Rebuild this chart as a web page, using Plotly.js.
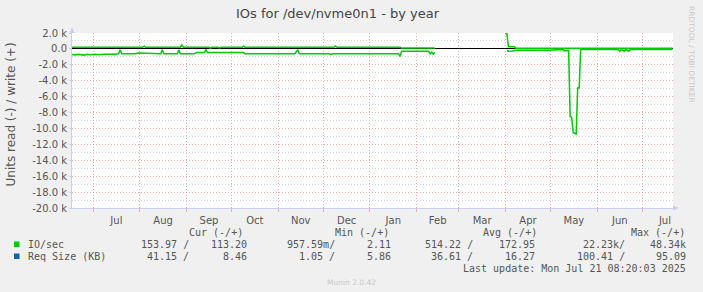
<!DOCTYPE html>
<html>
<head>
<meta charset="utf-8">
<script src="https://cdn.plot.ly/plotly-3.0.1.min.js"></script>
<style>
html,body{margin:0;padding:0;background:#f0f0f0;}
#chart{width:703px;height:292px;}
</style>
</head>
<body>
<div id="chart"></div>
<script>
// ---- data ----
const readDates = ['2024-06-17','2024-06-19','2024-06-21','2024-06-23','2024-06-25','2024-06-27','2024-06-29','2024-07-02','2024-07-05','2024-07-08','2024-07-11','2024-07-15','2024-07-18','2024-07-19','2024-07-20','2024-07-29','2024-07-31','2024-08-03','2024-08-05','2024-08-15','2024-08-16','2024-08-17','2024-08-26','2024-08-27','2024-08-28','2024-09-06','2024-09-08','2024-09-13','2024-09-14','2024-09-15','2024-10-09','2024-10-10','2024-11-12','2024-11-14','2024-11-15','2024-12-05','2024-12-06','2024-12-07','2025-01-20','2025-01-21','2025-01-22','2025-02-09','2025-02-10','2025-02-11','2025-02-12','2025-02-13','2025-02-14','2025-03-31','2025-04-02','2025-04-03','2025-04-06','2025-04-08','2025-04-30','2025-05-08','2025-05-09','2025-05-10','2025-05-13','2025-05-14','2025-05-15','2025-05-16','2025-05-18','2025-05-19','2025-05-20','2025-05-21','2025-06-15','2025-06-16','2025-06-17','2025-06-19','2025-06-20','2025-06-22','2025-06-23','2025-07-21'];
const readVals = [-700,-760,-660,-720,-780,-680,-740,-660,-730,-680,-720,-680,-620,-100,-620,-620,-520,-540,-620,-620,-120,-620,-620,-150,-620,-620,-460,-460,-80,-460,-460,-620,-620,-100,-620,-620,-720,-620,-620,-950,-300,-300,-620,-420,-650,-420,null,null,-200,-290,-250,-170,-160,-150,-60,-220,-220,-8500,-8600,-10500,-10700,-4900,-4900,-80,-80,-300,-80,-300,-80,-300,-80,-80];

const writeDates = ['2024-06-17','2024-08-03','2024-08-04','2024-08-05','2024-08-28','2024-08-29','2024-08-30','2024-09-16','2024-09-17','2024-09-18','2024-09-22','2024-09-23','2024-09-24','2024-10-08','2024-10-09','2024-10-10','2024-12-08','2024-12-09','2024-12-10','2025-01-21','2025-01-22','2025-02-13','2025-02-14','2025-03-31','2025-04-01','2025-04-02','2025-04-03','2025-04-07','2025-04-08','2025-07-21'];
const writeVals = [210,210,350,210,210,500,210,210,110,210,210,120,210,210,340,210,210,380,210,210,110,110,null,null,1900,1900,260,260,70,70];

const yTickVals = [2000,0,-2000,-4000,-6000,-8000,-10000,-12000,-14000,-16000,-18000,-20000];
const yTickText = ['2.0 k','0.0','-2.0 k','-4.0 k','-6.0 k','-8.0 k','-10.0 k','-12.0 k','-14.0 k','-16.0 k','-18.0 k','-20.0 k'];

const legendNames = ['IO/sec','Req Size (KB)'];
const legendColors = ['#00cc00','#0066b3'];
const legendHeaders = ['Cur (-/+)','Min (-/+)','Avg (-/+)','Max (-/+)'];
const curCol  = [['153.97 /','113.20'],['41.15 /','8.46']];
const minCol  = [['957.59m/','2.11'],['1.05 /','5.86']];
const avgCol  = [['514.22 /','172.95'],['36.61 /','16.27']];
const maxCol  = [['22.23k/','48.34k'],['100.41 /','95.09']];
const lastUpdate = 'Last update: Mon Jul 21 08:20:03 2025';

// ---- layout helpers ----
const W = 703, H = 292, L = 72, R = 30, T = 33, B = 84;
const PW = W - L - R, PH = H - T - B;
const px = x => (x - L) / PW;
const py = y => (H - B - y) / PH;
const nb = s => s.replace(/ /g, '\u00a0');

const grey = '#555555';
const mono = {family: 'DejaVu Sans Mono', size: 10, color: grey};

const annotations = [];
function txt(x, y, text, anchor, font, extra) {
  annotations.push(Object.assign({xref:'paper', yref:'paper', x: px(x), y: py(y), text: nb(text),
    showarrow:false, xanchor: anchor, yanchor:'middle', font: font}, extra || {}));
}
// y-axis title
txt(10, 114.5, 'Units read (-) / write (+)', 'center', {family:'DejaVu Sans', size:12, color:grey}, {textangle:-90});
// side credit
txt(692, 54, 'RRDTOOL / TOBI OETIKER', 'center', {family:'DejaVu Sans', size:7.5, color:'#c8c8c8'}, {textangle:90});
// legend headers
const headerX = [187, 333, 481, 629];
legendHeaders.forEach((h, i) => txt(headerX[i], 232, h, 'left', mono));
// legend rows
const colRight = [191, 249, 337, 393, 475, 537, 627, 688];
const rowY = [244, 256];
legendNames.forEach((n, r) => {
  txt(26, rowY[r], n, 'left', mono);
  const fields = [curCol[r][0], curCol[r][1], minCol[r][0], minCol[r][1], avgCol[r][0], avgCol[r][1], maxCol[r][0], maxCol[r][1]];
  fields.forEach((f, i) => txt(colRight[i], rowY[r], f, 'right', mono));
});
txt(688, 268, lastUpdate, 'right', mono);
txt(351.5, 282, 'Munin 2.0.42', 'center', {family:'DejaVu Sans', size:7.5, color:'#c8c8c8'});

const shapes = [];
legendNames.forEach((n, r) => {
  shapes.push({type:'rect', xref:'paper', yref:'paper', x0: px(14), x1: px(19.5), y0: py(rowY[r]+3), y1: py(rowY[r]-2.5),
    fillcolor: legendColors[r], line:{width:0}});
});
// axis arrows
shapes.push({type:'path', xref:'paper', yref:'paper',
  path: `M ${px(673)} ${py(205.5)} L ${px(679)} ${py(208)} L ${px(673)} ${py(210.5)} Z`, fillcolor:'#ccccf8', line:{width:0}});
shapes.push({type:'path', xref:'paper', yref:'paper',
  path: `M ${px(69.5)} ${py(33)} L ${px(72)} ${py(27)} L ${px(74.5)} ${py(33)} Z`, fillcolor:'#ccccf8', line:{width:0}});

const traces = [
  {type:'scatter', mode:'lines', x: readDates, y: readVals, line:{color:'#00cc00', width:1.5}, connectgaps:false, hoverinfo:'skip'},
  {type:'scatter', mode:'lines', x: writeDates, y: writeVals, line:{color:'#00cc00', width:1.5}, connectgaps:false, hoverinfo:'skip'}
];

const layout = {
  width: W, height: H,
  margin: {l: L, r: R, t: T, b: B, pad: 0},
  paper_bgcolor: '#f0f0f0',
  plot_bgcolor: '#ffffff',
  showlegend: false,
  title: {text: 'IOs for /dev/nvme0n1 - by year', x: 337.5 / W, xanchor: 'center', xref:'container',
          y: 1 - 13 / H, yanchor: 'middle', yref:'container',
          font: {family: 'DejaVu Sans', size: 13, color: '#444444'}},
  xaxis: {
    type: 'date',
    range: ['2024-06-17', '2025-07-21 08:20'],
    tick0: '2024-07-01', dtick: 'M1', tickformat: '%b', ticklabelmode: 'period',
    showgrid: true, gridcolor: '#f4a8a8', griddash: '1px,2px', gridwidth: 1,
    ticks: 'outside', ticklen: 3, tickcolor: '#f4a8a8',
    showline: true, linecolor: '#ccccf8', linewidth: 1,
    zeroline: false,
    tickfont: {family: 'DejaVu Sans', size: 10, color: grey},
    fixedrange: true
  },
  yaxis: {
    range: [-20000, 2000],
    tickmode: 'array', tickvals: yTickVals, ticktext: yTickText,
    showgrid: true, gridcolor: '#f4a8a8', griddash: '1px,2px', gridwidth: 1,
    minor: {dtick: 1000, showgrid: true, gridcolor: '#d4d4d4', griddash: '1px,2px', ticks: ''},
    ticks: 'outside', ticklen: 2, tickcolor: '#ccccf8',
    showline: true, linecolor: '#ccccf8', linewidth: 1,
    zeroline: true, zerolinecolor: '#000000', zerolinewidth: 1,
    tickfont: {family: 'DejaVu Sans', size: 10, color: grey},
    fixedrange: true
  },
  annotations: annotations,
  shapes: shapes
};

Plotly.newPlot('chart', traces, layout, {displayModeBar: false, staticPlot: true});
</script>
</body>
</html>
